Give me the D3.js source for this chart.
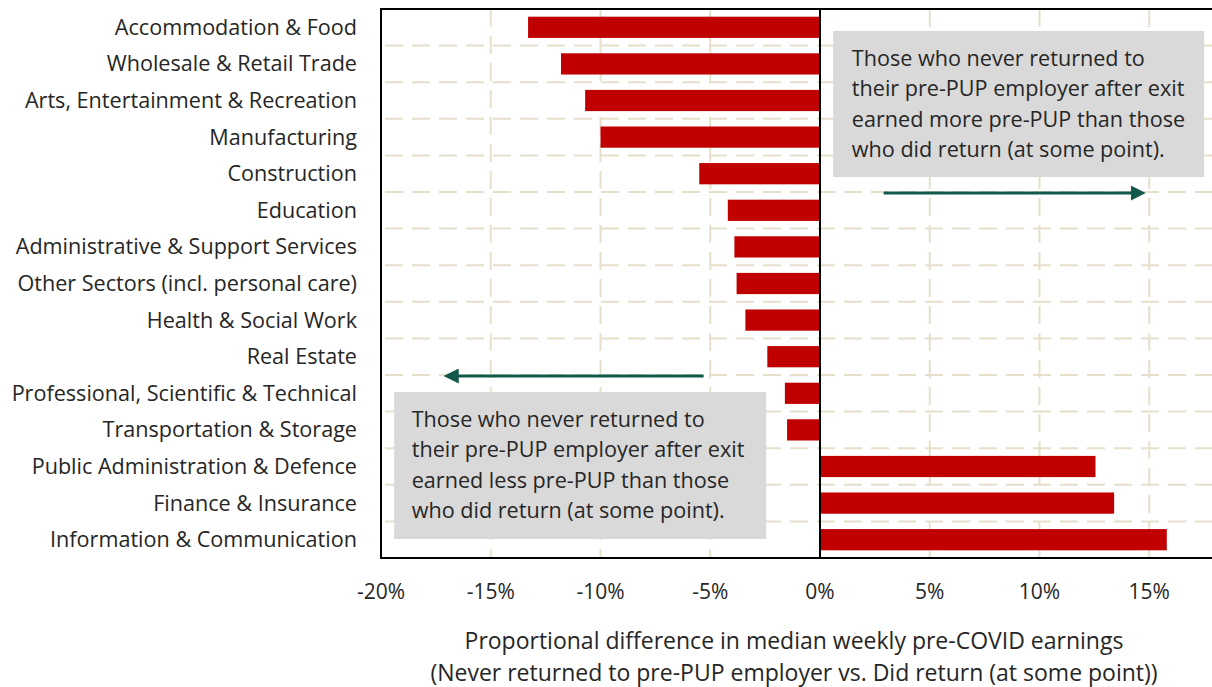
<!DOCTYPE html>
<html>
<head>
<meta charset="utf-8">
<script src="https://cdn.jsdelivr.net/npm/d3@7"></script>
<style>
  body { margin: 0; background: #fff; }
  svg text { font-family: "Open Sans", "Noto Sans", sans-serif; fill: #262626; }
</style>
</head>
<body>
<div id="chart"></div>
<script>
// sectors, top to bottom
const sectors = [
  "Accommodation & Food",
  "Wholesale & Retail Trade",
  "Arts, Entertainment & Recreation",
  "Manufacturing",
  "Construction",
  "Education",
  "Administrative & Support Services",
  "Other Sectors (incl. personal care)",
  "Health & Social Work",
  "Real Estate",
  "Professional, Scientific & Technical",
  "Transportation & Storage",
  "Public Administration & Defence",
  "Finance & Insurance",
  "Information & Communication"
];
// proportional difference, %
const diffs = [-13.3, -11.8, -10.7, -10.0, -5.5, -4.2, -3.9, -3.8, -3.4, -2.4, -1.6, -1.5, 12.55, 13.4, 15.8];
const xTicks = [-20, -15, -10, -5, 0, 5, 10, 15];
const axisTitle = [
  "Proportional difference in median weekly pre-COVID earnings",
  "(Never returned to pre-PUP employer vs. Did return (at some point))"
];
const noteRight = [
  "Those who never returned to",
  "their pre-PUP employer after exit",
  "earned more pre-PUP than those",
  "who did return (at some point)."
];
const noteLeft = [
  "Those who never returned to",
  "their pre-PUP employer after exit",
  "earned less pre-PUP than those",
  "who did return (at some point)."
];

const width = 1212, height = 687;
const margin = {left: 381, top: 9};
const plotW = 878, plotH = 549;

const barColor = "#c00000";
const gridColor = "#e6e0cb";
const arrowColor = "#12594c";

const svg = d3.select("#chart").append("svg")
  .attr("width", width)
  .attr("height", height);

const g = svg.append("g")
  .attr("transform", `translate(${margin.left}, ${margin.top})`);

var x = d3.scaleLinear().domain([-20, 20]).range([0, plotW]);
var y = d3.scaleBand().domain(sectors).range([0, plotH]).paddingInner(0.42).paddingOuter(0.21);

// vertical grid
g.selectAll(".vgrid")
  .data(xTicks.filter(d => d !== 0 && d !== -20))
  .enter().append("line")
  .attr("x1", d => x(d)).attr("x2", d => x(d))
  .attr("y1", 0).attr("y2", plotH)
  .attr("stroke", gridColor).attr("stroke-width", 2)
  .attr("stroke-dasharray", "18,9");

// horizontal grid between bars
const step = plotH / sectors.length;
g.selectAll(".hgrid")
  .data(d3.range(1, sectors.length))
  .enter().append("line")
  .attr("x1", 0).attr("x2", plotW)
  .attr("y1", d => d * step).attr("y2", d => d * step)
  .attr("stroke", gridColor).attr("stroke-width", 2)
  .attr("stroke-dasharray", "18,9")
  .attr("stroke-dashoffset", -4);

// bars
g.selectAll(".bar")
  .data(diffs)
  .enter().append("rect")
  .attr("fill", barColor)
  .attr("x", d => x(Math.min(0, d)))
  .attr("width", d => Math.abs(x(d) - x(0)))
  .attr("y", (d, i) => y(sectors[i]))
  .attr("height", y.bandwidth());

// zero line
g.append("line")
  .attr("x1", x(0)).attr("x2", x(0))
  .attr("y1", 0).attr("y2", plotH)
  .attr("stroke", "#000").attr("stroke-width", 2);

// frame
g.append("rect")
  .attr("x", 0).attr("y", 0)
  .attr("width", plotW).attr("height", plotH)
  .attr("fill", "none").attr("stroke", "#000").attr("stroke-width", 2);

// y labels
g.selectAll(".ylab")
  .data(sectors)
  .enter().append("text")
  .attr("x", -24)
  .attr("y", d => y(d) + y.bandwidth() / 2)
  .attr("dy", "0.35em")
  .attr("text-anchor", "end")
  .style("font-size", "21.6px")
  .text(d => d);

// x tick labels
g.selectAll(".xlab")
  .data(xTicks)
  .enter().append("text")
  .attr("x", d => x(d))
  .attr("y", plotH + 34)
  .attr("dy", "0.35em")
  .attr("text-anchor", "middle")
  .style("font-size", "21px")
  .text(d => d + "%");

// axis title
g.selectAll(".xtitle")
  .data(axisTitle)
  .enter().append("text")
  .attr("x", x(0) - 26)
  .attr("y", (d, i) => plotH + 83 + i * 32)
  .attr("dy", "0.35em")
  .attr("text-anchor", "middle")
  .style("font-size", "23px")
  .text(d => d);

// arrowhead marker
svg.append("defs").append("marker")
  .attr("id", "head")
  .attr("viewBox", "0 0 10 10")
  .attr("refX", 5).attr("refY", 5)
  .attr("markerWidth", 5).attr("markerHeight", 5)
  .attr("orient", "auto")
  .append("path")
  .attr("d", "M0,0 L10,5 L0,10 Z")
  .attr("fill", arrowColor);

function note(lines, x0, x1, y0, y1, tx, lineH) {
  g.append("rect")
    .attr("x", x0).attr("y", y0)
    .attr("width", x1 - x0).attr("height", y1 - y0)
    .attr("fill", "#d9d9d9");
  g.selectAll(null)
    .data(lines)
    .enter().append("text")
    .attr("x", tx)
    .attr("y", (d, i) => y0 + 27 + i * lineH)
    .attr("dy", "0.35em")
    .style("font-size", "21.6px")
    .text(d => d);
}

// right note + arrow
note(noteRight, x(0.6), x(17.5), 22, 168, x(1.45), 30.5);
g.append("line")
  .attr("x1", x(2.9)).attr("x2", x(14.5))
  .attr("y1", 5 * step + 1).attr("y2", 5 * step + 1)
  .attr("stroke", arrowColor).attr("stroke-width", 3)
  .attr("marker-end", "url(#head)");

// left note + arrow
note(noteLeft, x(-19.4), x(-2.45), 383, 530, x(-18.6), 30.5);
g.append("line")
  .attr("x1", x(-5.3)).attr("x2", x(-16.8))
  .attr("y1", 10 * step + 1).attr("y2", 10 * step + 1)
  .attr("stroke", arrowColor).attr("stroke-width", 3)
  .attr("marker-end", "url(#head)");
</script>
</body>
</html>
